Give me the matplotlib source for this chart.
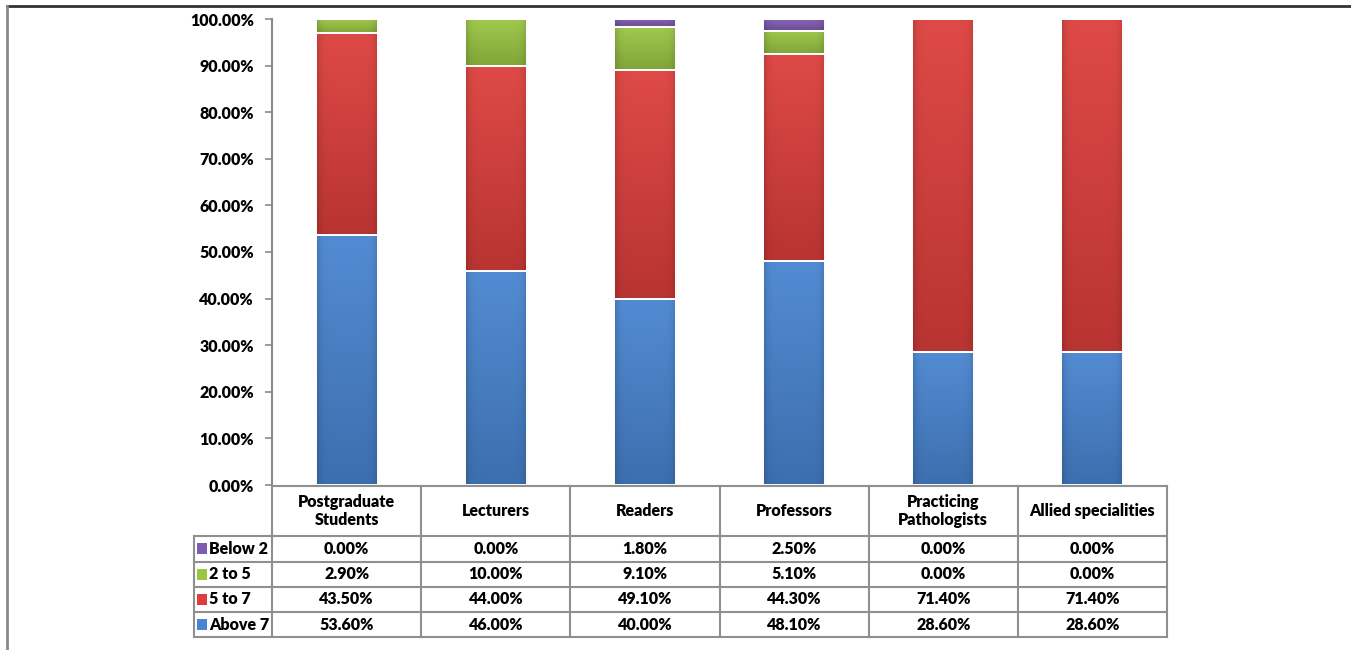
import numpy as np
import matplotlib
matplotlib.use("Agg")
from matplotlib import pyplot as plt
from matplotlib.colors import to_rgb
from matplotlib.lines import Line2D
from matplotlib.patches import Rectangle
from matplotlib.ticker import FuncFormatter, MultipleLocator

plt.rcParams['font.family'] = ['Lato', 'DejaVu Sans']
plt.rcParams['font.weight'] = 'bold'

categories = ["Postgraduate\nStudents", "Lecturers", "Readers", "Professors",
              "Practicing\nPathologists", "Allied specialities"]
above_7 = [53.6, 46.0, 40.0, 48.1, 28.6, 28.6]
five_to_7 = [43.5, 44.0, 49.1, 44.3, 71.4, 71.4]
two_to_5 = [2.9, 10.0, 9.1, 5.1, 0.0, 0.0]
below_2 = [0.0, 0.0, 1.8, 2.5, 0.0, 0.0]

series_names = ["Above 7", "5 to 7", "2 to 5", "Below 2"]
series_values = [above_7, five_to_7, two_to_5, below_2]
series_colors = ["#4884D0", "#DC3E3B", "#9AC543", "#7E5CB0"]

FS = 11.5


def shade(color, top, bottom, rows=40, cols=30):
    base = np.array(to_rgb(color))
    t = np.linspace(0, 1, rows)[:, None, None]
    light = base + (1 - base) * top
    dark = base * (1 - bottom)
    img = dark * (1 - t) + light * t
    xs = np.linspace(-1, 1, cols)[None, :, None]
    edge = 1 - 0.15 * np.abs(xs) ** 8
    return np.clip(img * edge, 0, 1)


fig = plt.figure(figsize=(13.51, 6.5), dpi=100)
ax = fig.add_axes([272 / 1351, 165 / 650, 895 / 1351, 466 / 650])

x = np.arange(len(categories))
width = 0.416
bottom = np.zeros(len(categories))
for name, vals, col in zip(series_names, series_values, series_colors):
    vals = np.array(vals)
    bars = ax.bar(x, vals, width, bottom=bottom, facecolor="none",
                  edgecolor="white", linewidth=1.4, zorder=4)
    for b in bars:
        if b.get_height() <= 0:
            continue
        bx, by = b.get_x(), b.get_y()
        ax.imshow(shade(col, 0.06, 0.16), extent=[bx, bx + b.get_width(), by, by + b.get_height()],
                  origin="lower", aspect="auto", zorder=3, interpolation="bilinear")
    bottom += vals

ax.set_xlim(-0.5, len(categories) - 0.5)
ax.set_ylim(0, 100)
ax.yaxis.set_major_locator(MultipleLocator(10))
ax.yaxis.set_major_formatter(FuncFormatter(lambda v, p: f"{v:.2f}%"))
ax.tick_params(axis="y", length=5, width=1.2, color="#8a8a8a", labelsize=FS, pad=8)
ax.tick_params(axis="x", bottom=False, labelbottom=False)
for s in ["top", "right", "bottom"]:
    ax.spines[s].set_visible(False)
ax.spines["left"].set_color("#8a8a8a")
ax.spines["left"].set_linewidth(1.5)
for lbl in ax.get_yticklabels():
    lbl.set_fontweight("heavy")

# data table under the bars
label_w = 78 / 149
tab = fig.add_axes([194 / 1351, 13 / 650, 973 / 1351, 151 / 650])
tab.set_xlim(-0.5 - label_w, len(categories) - 0.5)
row_edges = [0, 50, 75.5, 101, 126, 151]
tab.set_ylim(row_edges[-1], 0)
tab.axis("off")
grid = "#8f8f8f"
lw = 1.5

# header row
tab.plot([-0.5, len(categories) - 0.5], [0, 0], color=grid, lw=lw, clip_on=False)
for i, c in enumerate(categories):
    tab.text(i, 25, c, ha="center", va="center", fontsize=FS, fontweight="heavy", linespacing=1.15)
for k in range(len(categories) + 1):
    tab.plot([k - 0.5, k - 0.5], [0, row_edges[-1]], color=grid, lw=lw, clip_on=False)
tab.plot([-0.5 - label_w] * 2, [row_edges[1], row_edges[-1]], color=grid, lw=lw, clip_on=False)
for e in row_edges[1:]:
    tab.plot([-0.5 - label_w, len(categories) - 0.5], [e, e], color=grid, lw=lw, clip_on=False)

rows = list(zip(series_names, series_values, series_colors))[::-1]
for r, (name, vals, col) in enumerate(rows):
    y0, y1 = row_edges[r + 1], row_edges[r + 2]
    yc = (y0 + y1) / 2
    key_x = -0.5 - label_w + 0.022
    tab.add_patch(Rectangle((key_x, yc - 5.5), 0.065, 11, facecolor=col,
                            edgecolor="none", clip_on=False))
    tab.text(key_x + 0.078, yc, name, ha="left", va="center", fontsize=FS, fontweight="heavy")
    for i, v in enumerate(vals):
        tab.text(i, yc, f"{v:.2f}%", ha="center", va="center", fontsize=FS, fontweight="heavy")

# outer frame
fig.add_artist(Line2D([7 / 1351, 1], [644 / 650, 644 / 650], color="#333333", lw=2))
fig.add_artist(Line2D([7 / 1351, 7 / 1351], [0, 644 / 650], color="#8a8a8a", lw=2))

fig.savefig("out.png", dpi=100)
